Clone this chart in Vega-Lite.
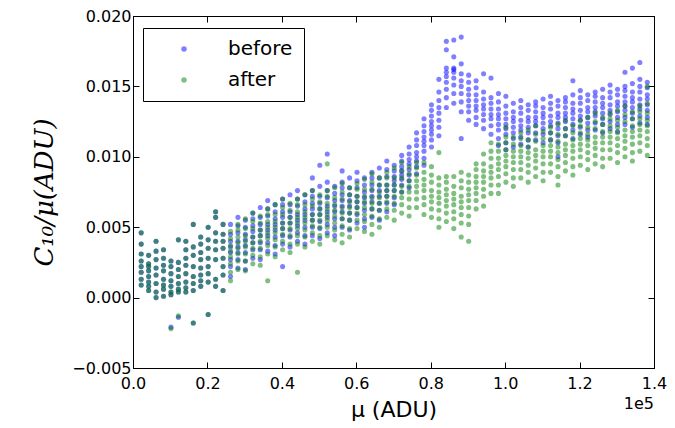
{
"$schema":"https://vega.github.io/schema/vega-lite/v6.json",
"width":521,"height":352,
"autosize":{"type":"none"},
"padding":{"left":133,"top":16,"right":21,"bottom":60},
"background":"white",
"config":{"font":"DejaVu Sans","view":{"stroke":"black","strokeWidth":1}},
"datasets":{
"before":[
{"x":2200,"y":0.0046},{"x":2200,"y":0.0038},{"x":2200,"y":0.0031},{"x":2200,"y":0.0026},{"x":2200,"y":0.0022},{"x":2200,"y":0.0018},{"x":2200,"y":0.0013},{"x":2200,"y":0.0009},
{"x":4200,"y":0.0030},{"x":4200,"y":0.0024},{"x":4200,"y":0.0019},{"x":4200,"y":0.0015},{"x":4200,"y":0.0011},{"x":4200,"y":0.0008},{"x":4200,"y":0.0005},{"x":4200,"y":0.0022},
{"x":6200,"y":0.0040},{"x":6200,"y":0.0033},{"x":6200,"y":0.0027},{"x":6200,"y":0.0021},{"x":6200,"y":0.0016},{"x":6200,"y":0.0010},{"x":6200,"y":0.0004},{"x":6200,"y":0.0000},
{"x":8200,"y":0.0034},{"x":8200,"y":0.0028},{"x":8200,"y":0.0023},{"x":8200,"y":0.0019},{"x":8200,"y":0.0013},{"x":8200,"y":0.0009},{"x":8200,"y":0.0006},{"x":8200,"y":0.0001},
{"x":10200,"y":0.0026},{"x":10200,"y":0.0022},{"x":10200,"y":0.0017},{"x":10200,"y":0.0012},{"x":10200,"y":0.0008},{"x":10200,"y":0.0004},{"x":10200,"y":0.0002},{"x":10200,"y":-0.0021},
{"x":12200,"y":0.0041},{"x":12200,"y":0.0025},{"x":12200,"y":0.0020},{"x":12200,"y":0.0015},{"x":12200,"y":0.0010},{"x":12200,"y":0.0006},{"x":12200,"y":0.0004},{"x":12200,"y":-0.0014},
{"x":14200,"y":0.0040},{"x":14200,"y":0.0034},{"x":14200,"y":0.0028},{"x":14200,"y":0.0023},{"x":14200,"y":0.0017},{"x":14200,"y":0.0011},{"x":14200,"y":0.0007},{"x":14200,"y":0.0004},
{"x":16200,"y":0.0052},{"x":16200,"y":0.0036},{"x":16200,"y":0.0030},{"x":16200,"y":0.0022},{"x":16200,"y":0.0015},{"x":16200,"y":0.0010},{"x":16200,"y":0.0005},{"x":16200,"y":-0.0018},
{"x":18200,"y":0.0043},{"x":18200,"y":0.0038},{"x":18200,"y":0.0032},{"x":18200,"y":0.0027},{"x":18200,"y":0.0021},{"x":18200,"y":0.0016},{"x":18200,"y":0.0012},{"x":18200,"y":0.0008},
{"x":20200,"y":0.0050},{"x":20200,"y":0.0041},{"x":20200,"y":0.0035},{"x":20200,"y":0.0028},{"x":20200,"y":0.0022},{"x":20200,"y":0.0017},{"x":20200,"y":0.0011},{"x":20200,"y":-0.0012},
{"x":22200,"y":0.0061},{"x":22200,"y":0.0057},{"x":22200,"y":0.0046},{"x":22200,"y":0.0040},{"x":22200,"y":0.0034},{"x":22200,"y":0.0027},{"x":22200,"y":0.0013},{"x":22200,"y":0.0008},
{"x":24200,"y":0.0052},{"x":24200,"y":0.0045},{"x":24200,"y":0.0040},{"x":24200,"y":0.0035},{"x":24200,"y":0.0028},{"x":24200,"y":0.0022},{"x":24200,"y":0.0016},{"x":24200,"y":0.0005},
{"x":26200,"y":0.0015},{"x":26200,"y":0.0022},{"x":26200,"y":0.0027},{"x":26200,"y":0.0032},{"x":26200,"y":0.0036},{"x":26200,"y":0.0040},{"x":26200,"y":0.0045},{"x":26200,"y":0.0052},
{"x":28200,"y":0.0021},{"x":28200,"y":0.0027},{"x":28200,"y":0.0032},{"x":28200,"y":0.0036},{"x":28200,"y":0.0040},{"x":28200,"y":0.0046},{"x":28200,"y":0.0051},{"x":28200,"y":0.0057},
{"x":30200,"y":0.0020},{"x":30200,"y":0.0026},{"x":30200,"y":0.0032},{"x":30200,"y":0.0037},{"x":30200,"y":0.0041},{"x":30200,"y":0.0045},{"x":30200,"y":0.0050},{"x":30200,"y":0.0055},
{"x":32200,"y":0.0028},{"x":32200,"y":0.0034},{"x":32200,"y":0.0039},{"x":32200,"y":0.0043},{"x":32200,"y":0.0047},{"x":32200,"y":0.0051},{"x":32200,"y":0.0056},{"x":32200,"y":0.0060},
{"x":34200,"y":0.0027},{"x":34200,"y":0.0034},{"x":34200,"y":0.0039},{"x":34200,"y":0.0044},{"x":34200,"y":0.0048},{"x":34200,"y":0.0052},{"x":34200,"y":0.0057},{"x":34200,"y":0.0064},
{"x":36200,"y":0.0033},{"x":36200,"y":0.0039},{"x":36200,"y":0.0044},{"x":36200,"y":0.0048},{"x":36200,"y":0.0052},{"x":36200,"y":0.0058},{"x":36200,"y":0.0063},{"x":36200,"y":0.0069},
{"x":38200,"y":0.0031},{"x":38200,"y":0.0037},{"x":38200,"y":0.0043},{"x":38200,"y":0.0048},{"x":38200,"y":0.0052},{"x":38200,"y":0.0056},{"x":38200,"y":0.0061},{"x":38200,"y":0.0066},
{"x":40200,"y":0.0022},{"x":40200,"y":0.0038},{"x":40200,"y":0.0044},{"x":40200,"y":0.0049},{"x":40200,"y":0.0053},{"x":40200,"y":0.0057},{"x":40200,"y":0.0061},{"x":40200,"y":0.0066},{"x":40200,"y":0.0070},
{"x":42200,"y":0.0036},{"x":42200,"y":0.0043},{"x":42200,"y":0.0048},{"x":42200,"y":0.0053},{"x":42200,"y":0.0057},{"x":42200,"y":0.0061},{"x":42200,"y":0.0066},{"x":42200,"y":0.0073},
{"x":44200,"y":0.0040},{"x":44200,"y":0.0046},{"x":44200,"y":0.0051},{"x":44200,"y":0.0055},{"x":44200,"y":0.0059},{"x":44200,"y":0.0065},{"x":44200,"y":0.0070},{"x":44200,"y":0.0076},
{"x":46200,"y":0.0038},{"x":46200,"y":0.0044},{"x":46200,"y":0.0050},{"x":46200,"y":0.0055},{"x":46200,"y":0.0059},{"x":46200,"y":0.0063},{"x":46200,"y":0.0068},{"x":46200,"y":0.0073},
{"x":48200,"y":0.0044},{"x":48200,"y":0.0050},{"x":48200,"y":0.0055},{"x":48200,"y":0.0059},{"x":48200,"y":0.0063},{"x":48200,"y":0.0067},{"x":48200,"y":0.0072},{"x":48200,"y":0.0076},{"x":48200,"y":0.0085},
{"x":50200,"y":0.0042},{"x":50200,"y":0.0049},{"x":50200,"y":0.0054},{"x":50200,"y":0.0059},{"x":50200,"y":0.0063},{"x":50200,"y":0.0067},{"x":50200,"y":0.0072},{"x":50200,"y":0.0079},{"x":50200,"y":0.0094},
{"x":52200,"y":0.0046},{"x":52200,"y":0.0052},{"x":52200,"y":0.0057},{"x":52200,"y":0.0061},{"x":52200,"y":0.0065},{"x":52200,"y":0.0071},{"x":52200,"y":0.0076},{"x":52200,"y":0.0082},{"x":52200,"y":0.0102},
{"x":54200,"y":0.0044},{"x":54200,"y":0.0050},{"x":54200,"y":0.0056},{"x":54200,"y":0.0061},{"x":54200,"y":0.0065},{"x":54200,"y":0.0069},{"x":54200,"y":0.0074},{"x":54200,"y":0.0079},
{"x":56200,"y":0.0050},{"x":56200,"y":0.0056},{"x":56200,"y":0.0061},{"x":56200,"y":0.0065},{"x":56200,"y":0.0069},{"x":56200,"y":0.0073},{"x":56200,"y":0.0078},{"x":56200,"y":0.0082},{"x":56200,"y":0.0090},
{"x":58200,"y":0.0048},{"x":58200,"y":0.0055},{"x":58200,"y":0.0060},{"x":58200,"y":0.0065},{"x":58200,"y":0.0069},{"x":58200,"y":0.0073},{"x":58200,"y":0.0078},{"x":58200,"y":0.0085},
{"x":60200,"y":0.0053},{"x":60200,"y":0.0059},{"x":60200,"y":0.0064},{"x":60200,"y":0.0068},{"x":60200,"y":0.0072},{"x":60200,"y":0.0078},{"x":60200,"y":0.0083},{"x":60200,"y":0.0089},
{"x":62200,"y":0.0050},{"x":62200,"y":0.0056},{"x":62200,"y":0.0062},{"x":62200,"y":0.0067},{"x":62200,"y":0.0071},{"x":62200,"y":0.0075},{"x":62200,"y":0.0080},{"x":62200,"y":0.0085},
{"x":64200,"y":0.0057},{"x":64200,"y":0.0063},{"x":64200,"y":0.0068},{"x":64200,"y":0.0072},{"x":64200,"y":0.0076},{"x":64200,"y":0.0080},{"x":64200,"y":0.0085},{"x":64200,"y":0.0089},
{"x":66200,"y":0.0055},{"x":66200,"y":0.0062},{"x":66200,"y":0.0067},{"x":66200,"y":0.0072},{"x":66200,"y":0.0076},{"x":66200,"y":0.0080},{"x":66200,"y":0.0085},{"x":66200,"y":0.0092},
{"x":68200,"y":0.0061},{"x":68200,"y":0.0067},{"x":68200,"y":0.0072},{"x":68200,"y":0.0076},{"x":68200,"y":0.0080},{"x":68200,"y":0.0086},{"x":68200,"y":0.0091},{"x":68200,"y":0.0097},
{"x":70200,"y":0.0066},{"x":70200,"y":0.0071},{"x":70200,"y":0.0076},{"x":70200,"y":0.0080},{"x":70200,"y":0.0083},{"x":70200,"y":0.0086},{"x":70200,"y":0.0090},{"x":70200,"y":0.0094},
{"x":72200,"y":0.0075},{"x":72200,"y":0.0080},{"x":72200,"y":0.0084},{"x":72200,"y":0.0087},{"x":72200,"y":0.0090},{"x":72200,"y":0.0093},{"x":72200,"y":0.0097},{"x":72200,"y":0.0101},
{"x":74200,"y":0.0078},{"x":74200,"y":0.0083},{"x":74200,"y":0.0087},{"x":74200,"y":0.0091},{"x":74200,"y":0.0095},{"x":74200,"y":0.0098},{"x":74200,"y":0.0102},{"x":74200,"y":0.0107},
{"x":76200,"y":0.0088},{"x":76200,"y":0.0093},{"x":76200,"y":0.0097},{"x":76200,"y":0.0100},{"x":76200,"y":0.0103},{"x":76200,"y":0.0108},{"x":76200,"y":0.0112},{"x":76200,"y":0.0117},
{"x":78200,"y":0.0094},{"x":78200,"y":0.0099},{"x":78200,"y":0.0104},{"x":78200,"y":0.0108},{"x":78200,"y":0.0111},{"x":78200,"y":0.0114},{"x":78200,"y":0.0118},{"x":78200,"y":0.0122},{"x":78200,"y":0.0127},
{"x":80200,"y":0.0107},{"x":80200,"y":0.0112},{"x":80200,"y":0.0116},{"x":80200,"y":0.0119},{"x":80200,"y":0.0122},{"x":80200,"y":0.0125},{"x":80200,"y":0.0129},{"x":80200,"y":0.0133},{"x":80200,"y":0.0137},
{"x":82200,"y":0.0115},{"x":82200,"y":0.0121},{"x":82200,"y":0.0126},{"x":82200,"y":0.0131},{"x":82200,"y":0.0135},{"x":82200,"y":0.0140},{"x":82200,"y":0.0146},{"x":82200,"y":0.0155},
{"x":84200,"y":0.0135},{"x":84200,"y":0.0142},{"x":84200,"y":0.0148},{"x":84200,"y":0.0153},{"x":84200,"y":0.0157},{"x":84200,"y":0.0160},{"x":84200,"y":0.0163},{"x":84200,"y":0.0176},{"x":84200,"y":0.0182},
{"x":86200,"y":0.0138},{"x":86200,"y":0.0145},{"x":86200,"y":0.0151},{"x":86200,"y":0.0156},{"x":86200,"y":0.0160},{"x":86200,"y":0.0162},{"x":86200,"y":0.0163},{"x":86200,"y":0.0171},{"x":86200,"y":0.0183},
{"x":88200,"y":0.0113},{"x":88200,"y":0.0132},{"x":88200,"y":0.0139},{"x":88200,"y":0.0145},{"x":88200,"y":0.0150},{"x":88200,"y":0.0154},{"x":88200,"y":0.0159},{"x":88200,"y":0.0166},{"x":88200,"y":0.0185},
{"x":90200,"y":0.0126},{"x":90200,"y":0.0132},{"x":90200,"y":0.0136},{"x":90200,"y":0.0140},{"x":90200,"y":0.0144},{"x":90200,"y":0.0148},{"x":90200,"y":0.0153},{"x":90200,"y":0.0158},
{"x":92200,"y":0.0123},{"x":92200,"y":0.0128},{"x":92200,"y":0.0133},{"x":92200,"y":0.0136},{"x":92200,"y":0.0140},{"x":92200,"y":0.0144},{"x":92200,"y":0.0149},{"x":92200,"y":0.0154},
{"x":94200,"y":0.0120},{"x":94200,"y":0.0126},{"x":94200,"y":0.0130},{"x":94200,"y":0.0134},{"x":94200,"y":0.0137},{"x":94200,"y":0.0141},{"x":94200,"y":0.0146},{"x":94200,"y":0.0159},
{"x":96200,"y":0.0116},{"x":96200,"y":0.0122},{"x":96200,"y":0.0127},{"x":96200,"y":0.0130},{"x":96200,"y":0.0134},{"x":96200,"y":0.0138},{"x":96200,"y":0.0142},{"x":96200,"y":0.0156},
{"x":98200,"y":0.0108},{"x":98200,"y":0.0113},{"x":98200,"y":0.0119},{"x":98200,"y":0.0123},{"x":98200,"y":0.0127},{"x":98200,"y":0.0130},{"x":98200,"y":0.0134},{"x":98200,"y":0.0139},{"x":98200,"y":0.0145},
{"x":100200,"y":0.0105},{"x":100200,"y":0.0110},{"x":100200,"y":0.0116},{"x":100200,"y":0.0120},{"x":100200,"y":0.0123},{"x":100200,"y":0.0127},{"x":100200,"y":0.0131},{"x":100200,"y":0.0136},{"x":100200,"y":0.0143},
{"x":102200,"y":0.0107},{"x":102200,"y":0.0113},{"x":102200,"y":0.0117},{"x":102200,"y":0.0121},{"x":102200,"y":0.0125},{"x":102200,"y":0.0128},{"x":102200,"y":0.0132},{"x":102200,"y":0.0138},
{"x":104200,"y":0.0109},{"x":104200,"y":0.0114},{"x":104200,"y":0.0119},{"x":104200,"y":0.0122},{"x":104200,"y":0.0126},{"x":104200,"y":0.0131},{"x":104200,"y":0.0135},{"x":104200,"y":0.0140},
{"x":106200,"y":0.0107},{"x":106200,"y":0.0112},{"x":106200,"y":0.0117},{"x":106200,"y":0.0121},{"x":106200,"y":0.0125},{"x":106200,"y":0.0128},{"x":106200,"y":0.0133},{"x":106200,"y":0.0137},
{"x":108200,"y":0.0112},{"x":108200,"y":0.0117},{"x":108200,"y":0.0122},{"x":108200,"y":0.0125},{"x":108200,"y":0.0128},{"x":108200,"y":0.0132},{"x":108200,"y":0.0136},{"x":108200,"y":0.0139},
{"x":110200,"y":0.0110},{"x":110200,"y":0.0116},{"x":110200,"y":0.0120},{"x":110200,"y":0.0124},{"x":110200,"y":0.0128},{"x":110200,"y":0.0131},{"x":110200,"y":0.0135},{"x":110200,"y":0.0141},
{"x":112200,"y":0.0112},{"x":112200,"y":0.0117},{"x":112200,"y":0.0122},{"x":112200,"y":0.0125},{"x":112200,"y":0.0129},{"x":112200,"y":0.0134},{"x":112200,"y":0.0138},{"x":112200,"y":0.0143},
{"x":114200,"y":0.0100},{"x":114200,"y":0.0110},{"x":114200,"y":0.0115},{"x":114200,"y":0.0120},{"x":114200,"y":0.0124},{"x":114200,"y":0.0128},{"x":114200,"y":0.0131},{"x":114200,"y":0.0136},{"x":114200,"y":0.0140},
{"x":116200,"y":0.0115},{"x":116200,"y":0.0120},{"x":116200,"y":0.0125},{"x":116200,"y":0.0128},{"x":116200,"y":0.0131},{"x":116200,"y":0.0135},{"x":116200,"y":0.0139},{"x":116200,"y":0.0142},
{"x":118200,"y":0.0113},{"x":118200,"y":0.0119},{"x":118200,"y":0.0123},{"x":118200,"y":0.0127},{"x":118200,"y":0.0131},{"x":118200,"y":0.0134},{"x":118200,"y":0.0138},{"x":118200,"y":0.0144},{"x":118200,"y":0.0154},
{"x":120200,"y":0.0116},{"x":120200,"y":0.0121},{"x":120200,"y":0.0126},{"x":120200,"y":0.0129},{"x":120200,"y":0.0133},{"x":120200,"y":0.0138},{"x":120200,"y":0.0142},{"x":120200,"y":0.0147},
{"x":122200,"y":0.0114},{"x":122200,"y":0.0119},{"x":122200,"y":0.0124},{"x":122200,"y":0.0128},{"x":122200,"y":0.0132},{"x":122200,"y":0.0135},{"x":122200,"y":0.0140},{"x":122200,"y":0.0144},
{"x":124200,"y":0.0119},{"x":124200,"y":0.0124},{"x":124200,"y":0.0129},{"x":124200,"y":0.0132},{"x":124200,"y":0.0135},{"x":124200,"y":0.0139},{"x":124200,"y":0.0143},{"x":124200,"y":0.0146},
{"x":126200,"y":0.0117},{"x":126200,"y":0.0123},{"x":126200,"y":0.0127},{"x":126200,"y":0.0131},{"x":126200,"y":0.0135},{"x":126200,"y":0.0138},{"x":126200,"y":0.0142},{"x":126200,"y":0.0148},
{"x":128200,"y":0.0120},{"x":128200,"y":0.0125},{"x":128200,"y":0.0130},{"x":128200,"y":0.0133},{"x":128200,"y":0.0137},{"x":128200,"y":0.0142},{"x":128200,"y":0.0146},{"x":128200,"y":0.0151},
{"x":130200,"y":0.0118},{"x":130200,"y":0.0123},{"x":130200,"y":0.0128},{"x":130200,"y":0.0132},{"x":130200,"y":0.0136},{"x":130200,"y":0.0139},{"x":130200,"y":0.0144},{"x":130200,"y":0.0148},
{"x":132200,"y":0.0123},{"x":132200,"y":0.0128},{"x":132200,"y":0.0133},{"x":132200,"y":0.0136},{"x":132200,"y":0.0139},{"x":132200,"y":0.0143},{"x":132200,"y":0.0147},{"x":132200,"y":0.0150},{"x":132200,"y":0.0160},
{"x":134200,"y":0.0121},{"x":134200,"y":0.0127},{"x":134200,"y":0.0131},{"x":134200,"y":0.0135},{"x":134200,"y":0.0139},{"x":134200,"y":0.0142},{"x":134200,"y":0.0146},{"x":134200,"y":0.0152},{"x":134200,"y":0.0163},
{"x":136200,"y":0.0124},{"x":136200,"y":0.0129},{"x":136200,"y":0.0134},{"x":136200,"y":0.0137},{"x":136200,"y":0.0141},{"x":136200,"y":0.0146},{"x":136200,"y":0.0150},{"x":136200,"y":0.0155},{"x":136200,"y":0.0167},
{"x":138200,"y":0.0123},{"x":138200,"y":0.0128},{"x":138200,"y":0.0133},{"x":138200,"y":0.0137},{"x":138200,"y":0.0141},{"x":138200,"y":0.0144},{"x":138200,"y":0.0149},{"x":138200,"y":0.0153}
],
"after":[
{"x":2200,"y":0.0046},{"x":2200,"y":0.0038},{"x":2200,"y":0.0031},{"x":2200,"y":0.0026},{"x":2200,"y":0.0022},{"x":2200,"y":0.0018},{"x":2200,"y":0.0013},{"x":2200,"y":0.0009},
{"x":4200,"y":0.0030},{"x":4200,"y":0.0024},{"x":4200,"y":0.0019},{"x":4200,"y":0.0015},{"x":4200,"y":0.0011},{"x":4200,"y":0.0008},{"x":4200,"y":0.0005},{"x":4200,"y":0.0022},
{"x":6200,"y":0.0040},{"x":6200,"y":0.0033},{"x":6200,"y":0.0027},{"x":6200,"y":0.0021},{"x":6200,"y":0.0016},{"x":6200,"y":0.0010},{"x":6200,"y":0.0004},{"x":6200,"y":0.0000},
{"x":8200,"y":0.0034},{"x":8200,"y":0.0028},{"x":8200,"y":0.0023},{"x":8200,"y":0.0019},{"x":8200,"y":0.0013},{"x":8200,"y":0.0009},{"x":8200,"y":0.0006},{"x":8200,"y":0.0001},
{"x":10200,"y":0.0026},{"x":10200,"y":0.0022},{"x":10200,"y":0.0017},{"x":10200,"y":0.0012},{"x":10200,"y":0.0008},{"x":10200,"y":0.0004},{"x":10200,"y":0.0002},{"x":10200,"y":-0.0022},
{"x":12200,"y":0.0041},{"x":12200,"y":0.0025},{"x":12200,"y":0.0020},{"x":12200,"y":0.0015},{"x":12200,"y":0.0010},{"x":12200,"y":0.0006},{"x":12200,"y":0.0004},{"x":12200,"y":-0.0013},
{"x":14200,"y":0.0040},{"x":14200,"y":0.0034},{"x":14200,"y":0.0028},{"x":14200,"y":0.0023},{"x":14200,"y":0.0017},{"x":14200,"y":0.0011},{"x":14200,"y":0.0007},{"x":14200,"y":0.0004},
{"x":16200,"y":0.0052},{"x":16200,"y":0.0036},{"x":16200,"y":0.0030},{"x":16200,"y":0.0022},{"x":16200,"y":0.0015},{"x":16200,"y":0.0010},{"x":16200,"y":0.0005},{"x":16200,"y":-0.0018},
{"x":18200,"y":0.0043},{"x":18200,"y":0.0038},{"x":18200,"y":0.0032},{"x":18200,"y":0.0027},{"x":18200,"y":0.0021},{"x":18200,"y":0.0016},{"x":18200,"y":0.0012},{"x":18200,"y":0.0008},
{"x":20200,"y":0.0050},{"x":20200,"y":0.0041},{"x":20200,"y":0.0035},{"x":20200,"y":0.0028},{"x":20200,"y":0.0022},{"x":20200,"y":0.0017},{"x":20200,"y":0.0011},{"x":20200,"y":-0.0012},
{"x":22200,"y":0.0061},{"x":22200,"y":0.0057},{"x":22200,"y":0.0046},{"x":22200,"y":0.0040},{"x":22200,"y":0.0034},{"x":22200,"y":0.0027},{"x":22200,"y":0.0013},{"x":22200,"y":0.0008},
{"x":24200,"y":0.0052},{"x":24200,"y":0.0045},{"x":24200,"y":0.0040},{"x":24200,"y":0.0035},{"x":24200,"y":0.0028},{"x":24200,"y":0.0022},{"x":24200,"y":0.0016},{"x":24200,"y":0.0005},
{"x":26200,"y":0.0012},{"x":26200,"y":0.0018},{"x":26200,"y":0.0024},{"x":26200,"y":0.0029},{"x":26200,"y":0.0033},{"x":26200,"y":0.0037},{"x":26200,"y":0.0042},{"x":26200,"y":0.0047},
{"x":28200,"y":0.0020},{"x":28200,"y":0.0026},{"x":28200,"y":0.0031},{"x":28200,"y":0.0035},{"x":28200,"y":0.0039},{"x":28200,"y":0.0043},{"x":28200,"y":0.0048},{"x":28200,"y":0.0052},
{"x":30200,"y":0.0019},{"x":30200,"y":0.0026},{"x":30200,"y":0.0031},{"x":30200,"y":0.0036},{"x":30200,"y":0.0040},{"x":30200,"y":0.0044},{"x":30200,"y":0.0049},{"x":30200,"y":0.0056},
{"x":32200,"y":0.0024},{"x":32200,"y":0.0030},{"x":32200,"y":0.0035},{"x":32200,"y":0.0039},{"x":32200,"y":0.0043},{"x":32200,"y":0.0049},{"x":32200,"y":0.0054},{"x":32200,"y":0.0060},
{"x":34200,"y":0.0023},{"x":34200,"y":0.0029},{"x":34200,"y":0.0035},{"x":34200,"y":0.0040},{"x":34200,"y":0.0044},{"x":34200,"y":0.0048},{"x":34200,"y":0.0053},{"x":34200,"y":0.0058},
{"x":36200,"y":0.0012},{"x":36200,"y":0.0031},{"x":36200,"y":0.0037},{"x":36200,"y":0.0042},{"x":36200,"y":0.0046},{"x":36200,"y":0.0050},{"x":36200,"y":0.0054},{"x":36200,"y":0.0059},{"x":36200,"y":0.0063},
{"x":38200,"y":0.0029},{"x":38200,"y":0.0036},{"x":38200,"y":0.0041},{"x":38200,"y":0.0046},{"x":38200,"y":0.0050},{"x":38200,"y":0.0054},{"x":38200,"y":0.0059},{"x":38200,"y":0.0066},
{"x":40200,"y":0.0034},{"x":40200,"y":0.0040},{"x":40200,"y":0.0045},{"x":40200,"y":0.0049},{"x":40200,"y":0.0053},{"x":40200,"y":0.0059},{"x":40200,"y":0.0064},{"x":40200,"y":0.0070},
{"x":42200,"y":0.0032},{"x":42200,"y":0.0038},{"x":42200,"y":0.0044},{"x":42200,"y":0.0049},{"x":42200,"y":0.0053},{"x":42200,"y":0.0057},{"x":42200,"y":0.0062},{"x":42200,"y":0.0067},
{"x":44200,"y":0.0018},{"x":44200,"y":0.0038},{"x":44200,"y":0.0044},{"x":44200,"y":0.0049},{"x":44200,"y":0.0053},{"x":44200,"y":0.0057},{"x":44200,"y":0.0061},{"x":44200,"y":0.0066},{"x":44200,"y":0.0070},
{"x":46200,"y":0.0036},{"x":46200,"y":0.0043},{"x":46200,"y":0.0048},{"x":46200,"y":0.0053},{"x":46200,"y":0.0057},{"x":46200,"y":0.0061},{"x":46200,"y":0.0066},{"x":46200,"y":0.0073},
{"x":48200,"y":0.0040},{"x":48200,"y":0.0046},{"x":48200,"y":0.0051},{"x":48200,"y":0.0055},{"x":48200,"y":0.0059},{"x":48200,"y":0.0065},{"x":48200,"y":0.0070},{"x":48200,"y":0.0076},
{"x":50200,"y":0.0038},{"x":50200,"y":0.0044},{"x":50200,"y":0.0050},{"x":50200,"y":0.0055},{"x":50200,"y":0.0059},{"x":50200,"y":0.0063},{"x":50200,"y":0.0068},{"x":50200,"y":0.0073},
{"x":52200,"y":0.0044},{"x":52200,"y":0.0050},{"x":52200,"y":0.0055},{"x":52200,"y":0.0059},{"x":52200,"y":0.0063},{"x":52200,"y":0.0067},{"x":52200,"y":0.0072},{"x":52200,"y":0.0076},{"x":52200,"y":0.0095},
{"x":54200,"y":0.0041},{"x":54200,"y":0.0048},{"x":54200,"y":0.0053},{"x":54200,"y":0.0058},{"x":54200,"y":0.0062},{"x":54200,"y":0.0066},{"x":54200,"y":0.0071},{"x":54200,"y":0.0078},
{"x":56200,"y":0.0039},{"x":56200,"y":0.0045},{"x":56200,"y":0.0051},{"x":56200,"y":0.0056},{"x":56200,"y":0.0060},{"x":56200,"y":0.0064},{"x":56200,"y":0.0070},{"x":56200,"y":0.0075},{"x":56200,"y":0.0081},
{"x":58200,"y":0.0043},{"x":58200,"y":0.0049},{"x":58200,"y":0.0055},{"x":58200,"y":0.0060},{"x":58200,"y":0.0064},{"x":58200,"y":0.0068},{"x":58200,"y":0.0073},{"x":58200,"y":0.0078},
{"x":60200,"y":0.0049},{"x":60200,"y":0.0055},{"x":60200,"y":0.0060},{"x":60200,"y":0.0064},{"x":60200,"y":0.0068},{"x":60200,"y":0.0072},{"x":60200,"y":0.0077},{"x":60200,"y":0.0081},
{"x":62200,"y":0.0047},{"x":62200,"y":0.0054},{"x":62200,"y":0.0059},{"x":62200,"y":0.0064},{"x":62200,"y":0.0068},{"x":62200,"y":0.0072},{"x":62200,"y":0.0077},{"x":62200,"y":0.0084},
{"x":64200,"y":0.0045},{"x":64200,"y":0.0052},{"x":64200,"y":0.0058},{"x":64200,"y":0.0063},{"x":64200,"y":0.0067},{"x":64200,"y":0.0071},{"x":64200,"y":0.0077},{"x":64200,"y":0.0082},{"x":64200,"y":0.0088},
{"x":66200,"y":0.0050},{"x":66200,"y":0.0056},{"x":66200,"y":0.0062},{"x":66200,"y":0.0067},{"x":66200,"y":0.0071},{"x":66200,"y":0.0075},{"x":66200,"y":0.0080},{"x":66200,"y":0.0085},
{"x":68200,"y":0.0057},{"x":68200,"y":0.0063},{"x":68200,"y":0.0068},{"x":68200,"y":0.0072},{"x":68200,"y":0.0076},{"x":68200,"y":0.0080},{"x":68200,"y":0.0085},{"x":68200,"y":0.0089},
{"x":70200,"y":0.0055},{"x":70200,"y":0.0062},{"x":70200,"y":0.0067},{"x":70200,"y":0.0072},{"x":70200,"y":0.0076},{"x":70200,"y":0.0080},{"x":70200,"y":0.0085},{"x":70200,"y":0.0092},
{"x":72200,"y":0.0060},{"x":72200,"y":0.0066},{"x":72200,"y":0.0071},{"x":72200,"y":0.0075},{"x":72200,"y":0.0079},{"x":72200,"y":0.0085},{"x":72200,"y":0.0090},{"x":72200,"y":0.0096},
{"x":74200,"y":0.0058},{"x":74200,"y":0.0064},{"x":74200,"y":0.0070},{"x":74200,"y":0.0075},{"x":74200,"y":0.0079},{"x":74200,"y":0.0083},{"x":74200,"y":0.0088},{"x":74200,"y":0.0093},
{"x":76200,"y":0.0064},{"x":76200,"y":0.0070},{"x":76200,"y":0.0075},{"x":76200,"y":0.0079},{"x":76200,"y":0.0083},{"x":76200,"y":0.0087},{"x":76200,"y":0.0092},{"x":76200,"y":0.0096},
{"x":78200,"y":0.0059},{"x":78200,"y":0.0066},{"x":78200,"y":0.0071},{"x":78200,"y":0.0076},{"x":78200,"y":0.0080},{"x":78200,"y":0.0084},{"x":78200,"y":0.0089},{"x":78200,"y":0.0096},
{"x":80200,"y":0.0057},{"x":80200,"y":0.0063},{"x":80200,"y":0.0068},{"x":80200,"y":0.0072},{"x":80200,"y":0.0076},{"x":80200,"y":0.0082},{"x":80200,"y":0.0087},{"x":80200,"y":0.0093},
{"x":82200,"y":0.0050},{"x":82200,"y":0.0056},{"x":82200,"y":0.0062},{"x":82200,"y":0.0067},{"x":82200,"y":0.0071},{"x":82200,"y":0.0075},{"x":82200,"y":0.0080},{"x":82200,"y":0.0085},{"x":82200,"y":0.0103},
{"x":84200,"y":0.0054},{"x":84200,"y":0.0060},{"x":84200,"y":0.0065},{"x":84200,"y":0.0069},{"x":84200,"y":0.0073},{"x":84200,"y":0.0077},{"x":84200,"y":0.0082},{"x":84200,"y":0.0086},
{"x":86200,"y":0.0049},{"x":86200,"y":0.0056},{"x":86200,"y":0.0061},{"x":86200,"y":0.0066},{"x":86200,"y":0.0070},{"x":86200,"y":0.0074},{"x":86200,"y":0.0079},{"x":86200,"y":0.0086},
{"x":88200,"y":0.0043},{"x":88200,"y":0.0053},{"x":88200,"y":0.0059},{"x":88200,"y":0.0064},{"x":88200,"y":0.0068},{"x":88200,"y":0.0072},{"x":88200,"y":0.0078},{"x":88200,"y":0.0083},{"x":88200,"y":0.0089},
{"x":90200,"y":0.0040},{"x":90200,"y":0.0052},{"x":90200,"y":0.0058},{"x":90200,"y":0.0064},{"x":90200,"y":0.0069},{"x":90200,"y":0.0073},{"x":90200,"y":0.0077},{"x":90200,"y":0.0082},{"x":90200,"y":0.0087},
{"x":92200,"y":0.0063},{"x":92200,"y":0.0069},{"x":92200,"y":0.0074},{"x":92200,"y":0.0078},{"x":92200,"y":0.0082},{"x":92200,"y":0.0086},{"x":92200,"y":0.0091},{"x":92200,"y":0.0095},
{"x":94200,"y":0.0065},{"x":94200,"y":0.0072},{"x":94200,"y":0.0077},{"x":94200,"y":0.0082},{"x":94200,"y":0.0086},{"x":94200,"y":0.0090},{"x":94200,"y":0.0095},{"x":94200,"y":0.0102},
{"x":96200,"y":0.0074},{"x":96200,"y":0.0080},{"x":96200,"y":0.0085},{"x":96200,"y":0.0089},{"x":96200,"y":0.0093},{"x":96200,"y":0.0099},{"x":96200,"y":0.0104},{"x":96200,"y":0.0110},
{"x":98200,"y":0.0074},{"x":98200,"y":0.0080},{"x":98200,"y":0.0086},{"x":98200,"y":0.0091},{"x":98200,"y":0.0095},{"x":98200,"y":0.0099},{"x":98200,"y":0.0104},{"x":98200,"y":0.0109},
{"x":100200,"y":0.0082},{"x":100200,"y":0.0088},{"x":100200,"y":0.0093},{"x":100200,"y":0.0097},{"x":100200,"y":0.0101},{"x":100200,"y":0.0105},{"x":100200,"y":0.0110},{"x":100200,"y":0.0114},{"x":100200,"y":0.0121},
{"x":102200,"y":0.0079},{"x":102200,"y":0.0085},{"x":102200,"y":0.0091},{"x":102200,"y":0.0096},{"x":102200,"y":0.0100},{"x":102200,"y":0.0104},{"x":102200,"y":0.0109},{"x":102200,"y":0.0114},
{"x":104200,"y":0.0085},{"x":104200,"y":0.0091},{"x":104200,"y":0.0096},{"x":104200,"y":0.0100},{"x":104200,"y":0.0104},{"x":104200,"y":0.0108},{"x":104200,"y":0.0113},{"x":104200,"y":0.0117},
{"x":106200,"y":0.0082},{"x":106200,"y":0.0089},{"x":106200,"y":0.0094},{"x":106200,"y":0.0099},{"x":106200,"y":0.0103},{"x":106200,"y":0.0107},{"x":106200,"y":0.0112},{"x":106200,"y":0.0119},
{"x":108200,"y":0.0086},{"x":108200,"y":0.0092},{"x":108200,"y":0.0097},{"x":108200,"y":0.0101},{"x":108200,"y":0.0105},{"x":108200,"y":0.0111},{"x":108200,"y":0.0116},{"x":108200,"y":0.0122},
{"x":110200,"y":0.0083},{"x":110200,"y":0.0089},{"x":110200,"y":0.0095},{"x":110200,"y":0.0100},{"x":110200,"y":0.0104},{"x":110200,"y":0.0108},{"x":110200,"y":0.0113},{"x":110200,"y":0.0118},
{"x":112200,"y":0.0089},{"x":112200,"y":0.0095},{"x":112200,"y":0.0100},{"x":112200,"y":0.0104},{"x":112200,"y":0.0108},{"x":112200,"y":0.0112},{"x":112200,"y":0.0117},{"x":112200,"y":0.0121},
{"x":114200,"y":0.0080},{"x":114200,"y":0.0086},{"x":114200,"y":0.0093},{"x":114200,"y":0.0098},{"x":114200,"y":0.0103},{"x":114200,"y":0.0107},{"x":114200,"y":0.0111},{"x":114200,"y":0.0116},{"x":114200,"y":0.0123},
{"x":116200,"y":0.0090},{"x":116200,"y":0.0096},{"x":116200,"y":0.0101},{"x":116200,"y":0.0105},{"x":116200,"y":0.0109},{"x":116200,"y":0.0115},{"x":116200,"y":0.0120},{"x":116200,"y":0.0126},
{"x":118200,"y":0.0087},{"x":118200,"y":0.0093},{"x":118200,"y":0.0099},{"x":118200,"y":0.0104},{"x":118200,"y":0.0108},{"x":118200,"y":0.0112},{"x":118200,"y":0.0117},{"x":118200,"y":0.0122},
{"x":120200,"y":0.0094},{"x":120200,"y":0.0100},{"x":120200,"y":0.0105},{"x":120200,"y":0.0109},{"x":120200,"y":0.0113},{"x":120200,"y":0.0117},{"x":120200,"y":0.0122},{"x":120200,"y":0.0126},
{"x":122200,"y":0.0091},{"x":122200,"y":0.0098},{"x":122200,"y":0.0103},{"x":122200,"y":0.0108},{"x":122200,"y":0.0112},{"x":122200,"y":0.0116},{"x":122200,"y":0.0121},{"x":122200,"y":0.0128},
{"x":124200,"y":0.0095},{"x":124200,"y":0.0101},{"x":124200,"y":0.0106},{"x":124200,"y":0.0110},{"x":124200,"y":0.0114},{"x":124200,"y":0.0120},{"x":124200,"y":0.0125},{"x":124200,"y":0.0131},
{"x":126200,"y":0.0093},{"x":126200,"y":0.0099},{"x":126200,"y":0.0105},{"x":126200,"y":0.0110},{"x":126200,"y":0.0114},{"x":126200,"y":0.0118},{"x":126200,"y":0.0123},{"x":126200,"y":0.0128},
{"x":128200,"y":0.0099},{"x":128200,"y":0.0105},{"x":128200,"y":0.0110},{"x":128200,"y":0.0114},{"x":128200,"y":0.0118},{"x":128200,"y":0.0122},{"x":128200,"y":0.0127},{"x":128200,"y":0.0131},
{"x":130200,"y":0.0096},{"x":130200,"y":0.0103},{"x":130200,"y":0.0108},{"x":130200,"y":0.0113},{"x":130200,"y":0.0117},{"x":130200,"y":0.0121},{"x":130200,"y":0.0126},{"x":130200,"y":0.0133},
{"x":132200,"y":0.0100},{"x":132200,"y":0.0106},{"x":132200,"y":0.0111},{"x":132200,"y":0.0115},{"x":132200,"y":0.0119},{"x":132200,"y":0.0125},{"x":132200,"y":0.0130},{"x":132200,"y":0.0136},
{"x":134200,"y":0.0097},{"x":134200,"y":0.0103},{"x":134200,"y":0.0109},{"x":134200,"y":0.0114},{"x":134200,"y":0.0118},{"x":134200,"y":0.0122},{"x":134200,"y":0.0127},{"x":134200,"y":0.0132},
{"x":136200,"y":0.0104},{"x":136200,"y":0.0110},{"x":136200,"y":0.0115},{"x":136200,"y":0.0119},{"x":136200,"y":0.0123},{"x":136200,"y":0.0127},{"x":136200,"y":0.0132},{"x":136200,"y":0.0136},
{"x":138200,"y":0.0101},{"x":138200,"y":0.0108},{"x":138200,"y":0.0113},{"x":138200,"y":0.0118},{"x":138200,"y":0.0122},{"x":138200,"y":0.0126},{"x":138200,"y":0.0131},{"x":138200,"y":0.0138},{"x":138200,"y":0.0150}
]
},
"layer":[
{"data":{"name":"before"},
 "mark":{"type":"circle","size":26,"opacity":0.5},
 "encoding":{
  "x":{"field":"x","type":"quantitative","scale":{"domain":[0,140000],"nice":false,"zero":false},
   "axis":{"orient":"bottom","values":[0,20000,40000,60000,80000,100000,120000,140000],"labelExpr":"format(datum.value/100000,'.1f')","labelFlush":false,"labelOverlap":false,"grid":false,"title":"μ (ADU)","titleFont":"DejaVu Sans","titleFontSize":22,"titleFontWeight":"normal","titleColor":"black","titlePadding":8,"labelFont":"DejaVu Sans","labelFontSize":16,"labelColor":"black","labelPadding":13,"tickSize":-6,"tickColor":"black","domainColor":"black"}},
  "y":{"field":"y","type":"quantitative","scale":{"domain":[-0.005,0.02],"nice":false,"zero":false},
   "axis":{"orient":"left","values":[-0.005,0,0.005,0.01,0.015,0.02],"format":".3f","labelFlush":false,"labelOverlap":false,"grid":false,"title":"C₁₀/μ(ADU)","titleFont":"DejaVu Serif","titleFontStyle":"italic","titleFontSize":26,"titleFontWeight":"normal","titleColor":"black","titlePadding":14,"labelFont":"DejaVu Sans","labelFontSize":16,"labelColor":"black","labelPadding":8,"tickSize":-6,"tickColor":"black","domainColor":"black"}},
  "color":{"datum":"before","type":"nominal","scale":{"domain":["before","after"],"range":["#0000ff","#008000"]},
   "legend":{"title":null,"orient":"none","legendX":10,"legendY":12,"padding":11,"strokeColor":"black","fillColor":"white","cornerRadius":0,"labelFont":"DejaVu Sans","labelFontSize":20,"labelColor":"black","symbolType":"circle","symbolSize":30,"symbolOpacity":0.5,"symbolStrokeWidth":0,"symbolOffset":20,"labelOffset":34,"rowPadding":11}}
 }},
{"data":{"name":"after"},
 "mark":{"type":"circle","size":26,"opacity":0.5},
 "encoding":{
  "x":{"field":"x","type":"quantitative","axis":null},
  "y":{"field":"y","type":"quantitative","axis":null},
  "color":{"datum":"after","type":"nominal"}
 }},
{"data":{"values":[{"x":0,"y":0}]},
 "mark":{"type":"point","opacity":0},
 "encoding":{
  "x":{"field":"x","type":"quantitative","axis":{"orient":"top","values":[0,20000,40000,60000,80000,100000,120000,140000],"labels":false,"title":null,"grid":false,"tickSize":-6,"tickColor":"black","domainColor":"black"}},
  "y":{"field":"y","type":"quantitative","axis":{"orient":"right","values":[-0.005,0,0.005,0.01,0.015,0.02],"labels":false,"title":null,"grid":false,"tickSize":-6,"tickColor":"black","domainColor":"black"}}
 }},
{"data":{"values":[{"t":"1e5"}]},
 "mark":{"type":"text","align":"right","baseline":"top","dy":28,"fontSize":16,"font":"DejaVu Sans","color":"black"},
 "encoding":{
  "x":{"datum":140000,"type":"quantitative","axis":null},
  "y":{"datum":-0.005,"type":"quantitative","axis":null},
  "text":{"field":"t"}
 }}
]
}
